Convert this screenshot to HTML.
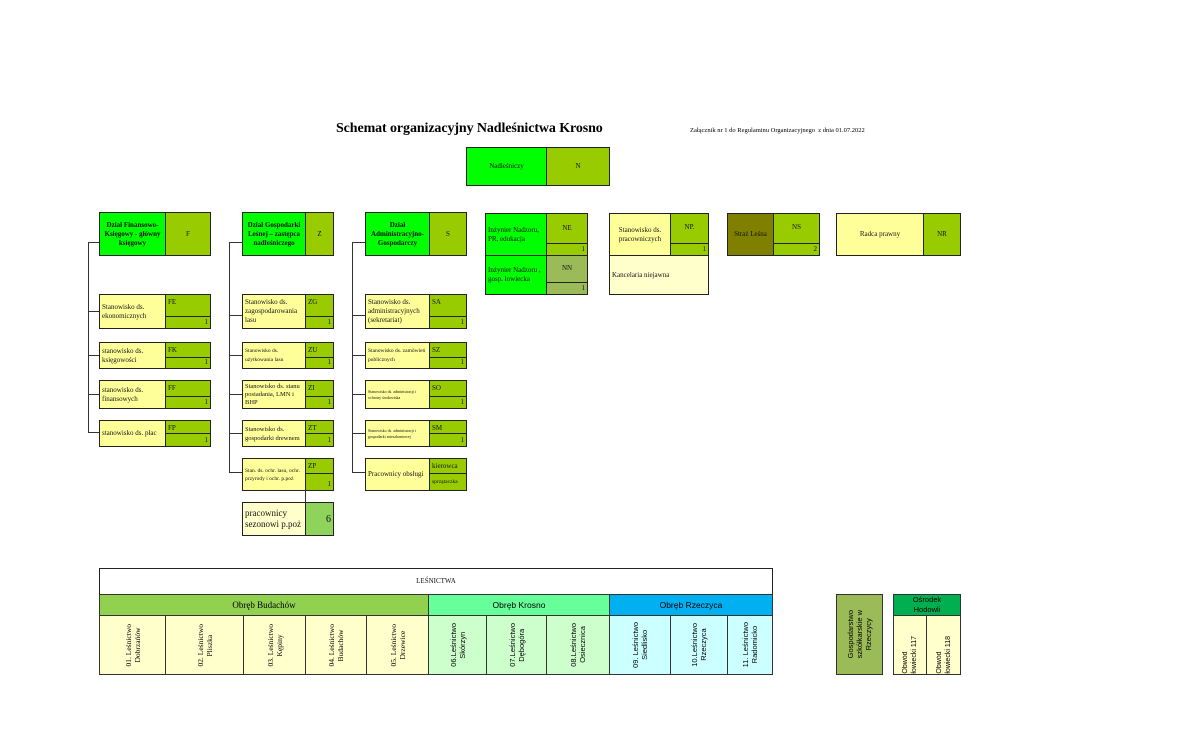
<!DOCTYPE html>
<html><head><meta charset="utf-8"><style>
body{margin:0;width:1180px;height:749px;background:#fff;position:relative;overflow:hidden;font-family:"Liberation Serif",serif;}
.a{position:absolute;box-sizing:border-box;}
.bx{position:absolute;box-sizing:border-box;border:1px solid #222;font-size:7px;line-height:9px;color:#111;display:flex;align-items:center;padding:0 2px;}
.c{justify-content:center;text-align:center;}
.g{background:#00ff00;}
.o{background:#99cc00;}
.y{background:#ffff99;}
.ly{background:#ffffcc;}
.code{align-items:flex-start;padding-top:3px;}
.n{justify-content:flex-end;align-items:flex-end;padding-bottom:1px;}
.ln{position:absolute;background:#333;}
.v{position:absolute;box-sizing:border-box;border:1px solid #333;font-family:"Liberation Sans",sans-serif;font-size:7.5px;line-height:9px;display:flex;align-items:center;justify-content:center;}
.v span{writing-mode:vertical-rl;transform:rotate(180deg);text-align:center;}
.s{font-family:"Liberation Serif",serif;}
</style></head><body>

<div class="a" style="left:336px;top:121px;font-size:14px;font-weight:bold;letter-spacing:-0.1px;">Schemat organizacyjny Nadleśnictwa Krosno</div>
<div class="a" style="left:690px;top:127px;font-size:6.5px;">Załącznik nr 1 do Regulaminu Organizacyjnego&nbsp; z dnia 01.07.2022</div>

<div class="bx g c" style="left:466px;top:147px;width:81px;height:39px;">Nadleśniczy</div>
<div class="bx o c" style="left:546px;top:147px;width:64px;height:39px;">N</div>

<!-- F -->
<div class="bx g c" style="left:99px;top:212px;width:67px;height:44px;font-weight:bold;">Dział Finansowo-Księgowy - główny księgowy</div>
<div class="bx o c" style="left:165px;top:212px;width:46px;height:44px;">F</div>
<div class="ln" style="left:88px;top:242px;width:1px;height:191px;"></div>
<div class="ln" style="left:88px;top:242px;width:11px;height:1px;"></div>

<div class="ln" style="left:88px;top:311px;width:11px;height:1px;"></div>
<div class="bx y" style="left:99px;top:294px;width:67px;height:35px;">Stanowisko ds. ekonomicznych</div>
<div class="bx o code" style="left:165px;top:294px;width:46px;height:23px;">FE</div>
<div class="bx o n" style="left:165px;top:316px;width:46px;height:13px;">1</div>

<div class="ln" style="left:88px;top:355px;width:11px;height:1px;"></div>
<div class="bx y" style="left:99px;top:342px;width:67px;height:27px;">stanowisko ds. księgowości</div>
<div class="bx o code" style="left:165px;top:342px;width:46px;height:16px;">FK</div>
<div class="bx o n" style="left:165px;top:357px;width:46px;height:12px;">1</div>

<div class="ln" style="left:88px;top:394px;width:11px;height:1px;"></div>
<div class="bx y" style="left:99px;top:380px;width:67px;height:29px;">stanowisko ds. finansowych</div>
<div class="bx o code" style="left:165px;top:380px;width:46px;height:17px;">FF</div>
<div class="bx o n" style="left:165px;top:396px;width:46px;height:13px;">1</div>

<div class="ln" style="left:88px;top:432px;width:11px;height:1px;"></div>
<div class="bx y" style="left:99px;top:420px;width:67px;height:27px;">stanowisko ds. płac</div>
<div class="bx o code" style="left:165px;top:420px;width:46px;height:14px;">FP</div>
<div class="bx o n" style="left:165px;top:433px;width:46px;height:14px;">1</div>

<!-- Z -->
<div class="bx g c" style="left:242px;top:212px;width:64px;height:44px;font-weight:bold;">Dział Gospodarki Leśnej – zastępca nadleśniczego</div>
<div class="bx o c" style="left:305px;top:212px;width:29px;height:44px;">Z</div>
<div class="ln" style="left:229px;top:242px;width:1px;height:231px;"></div>
<div class="ln" style="left:229px;top:242px;width:13px;height:1px;"></div>

<div class="ln" style="left:229px;top:315px;width:13px;height:1px;"></div>
<div class="bx y" style="left:242px;top:294px;width:64px;height:35px;">Stanowisko ds. zagospodarowania lasu</div>
<div class="bx o code" style="left:305px;top:294px;width:29px;height:23px;">ZG</div>
<div class="bx o n" style="left:305px;top:316px;width:29px;height:13px;">1</div>

<div class="ln" style="left:229px;top:355px;width:13px;height:1px;"></div>
<div class="bx y" style="left:242px;top:342px;width:64px;height:27px;font-size:5.5px;">Stanowisko ds. użytkowania lasu</div>
<div class="bx o code" style="left:305px;top:342px;width:29px;height:16px;">ZU</div>
<div class="bx o n" style="left:305px;top:357px;width:29px;height:12px;">1</div>

<div class="ln" style="left:229px;top:394px;width:13px;height:1px;"></div>
<div class="bx y" style="left:242px;top:380px;width:64px;height:29px;font-size:6.5px;line-height:8px;">Stanowisko ds. stanu posiadania, LMN i BHP</div>
<div class="bx o code" style="left:305px;top:380px;width:29px;height:17px;">ZI</div>
<div class="bx o n" style="left:305px;top:396px;width:29px;height:13px;">1</div>

<div class="ln" style="left:229px;top:433px;width:13px;height:1px;"></div>
<div class="bx y" style="left:242px;top:420px;width:64px;height:27px;font-size:6.5px;">Stanowisko ds. gospodarki drewnem</div>
<div class="bx o code" style="left:305px;top:420px;width:29px;height:14px;">ZT</div>
<div class="bx o n" style="left:305px;top:433px;width:29px;height:14px;">1</div>

<div class="ln" style="left:229px;top:472px;width:13px;height:1px;"></div>
<div class="bx y" style="left:242px;top:458px;width:64px;height:33px;font-size:5.5px;line-height:8px;">Stan. ds. ochr. lasu, ochr. przyrody i ochr. p.poż</div>
<div class="bx o code" style="left:305px;top:458px;width:29px;height:16px;">ZP</div>
<div class="bx o n" style="left:305px;top:473px;width:29px;height:18px;">1</div>
<div class="ln" style="left:305px;top:490px;width:1px;height:12px;"></div>
<div class="bx ly" style="left:242px;top:502px;width:64px;height:34px;font-size:9px;line-height:11px;">pracownicy sezonowi p.poż</div>
<div class="bx" style="left:305px;top:502px;width:29px;height:34px;background:#8fd35c;justify-content:flex-end;font-size:10px;">6</div>

<!-- S -->
<div class="bx g c" style="left:365px;top:212px;width:65px;height:44px;font-weight:bold;">Dział Administracyjno-Gospodarczy</div>
<div class="bx o c" style="left:429px;top:212px;width:38px;height:44px;">S</div>
<div class="ln" style="left:352px;top:242px;width:1px;height:231px;"></div>
<div class="ln" style="left:352px;top:242px;width:13px;height:1px;"></div>

<div class="ln" style="left:352px;top:315px;width:13px;height:1px;"></div>
<div class="bx y" style="left:365px;top:294px;width:65px;height:35px;">Stanowisko ds. administracyjnych (sekretariat)</div>
<div class="bx o code" style="left:429px;top:294px;width:38px;height:23px;">SA</div>
<div class="bx o n" style="left:429px;top:316px;width:38px;height:13px;">1</div>

<div class="ln" style="left:352px;top:355px;width:13px;height:1px;"></div>
<div class="bx y" style="left:365px;top:342px;width:65px;height:27px;font-size:5.5px;">Stanowisko ds. zamówień publicznych</div>
<div class="bx o code" style="left:429px;top:342px;width:38px;height:16px;">SZ</div>
<div class="bx o n" style="left:429px;top:357px;width:38px;height:12px;">1</div>

<div class="ln" style="left:352px;top:394px;width:13px;height:1px;"></div>
<div class="bx y" style="left:365px;top:380px;width:65px;height:29px;font-size:4px;line-height:6px;">Stanowisko ds. administracji i ochrony środowiska</div>
<div class="bx o code" style="left:429px;top:380px;width:38px;height:17px;">SO</div>
<div class="bx o n" style="left:429px;top:396px;width:38px;height:13px;">1</div>

<div class="ln" style="left:352px;top:433px;width:13px;height:1px;"></div>
<div class="bx y" style="left:365px;top:420px;width:65px;height:27px;font-size:4px;line-height:6px;">Stanowisko ds. administracji i gospodarki mieszkaniowej</div>
<div class="bx o code" style="left:429px;top:420px;width:38px;height:14px;">SM</div>
<div class="bx o n" style="left:429px;top:433px;width:38px;height:14px;">1</div>

<div class="ln" style="left:352px;top:472px;width:13px;height:1px;"></div>
<div class="bx y" style="left:365px;top:458px;width:65px;height:33px;">Pracownicy obsługi</div>
<div class="bx o" style="left:429px;top:458px;width:38px;height:16px;">kierowca</div>
<div class="bx o" style="left:429px;top:473px;width:38px;height:18px;font-size:5.5px;">sprzątaczka</div>

<!-- right group -->
<div class="bx g" style="left:485px;top:213px;width:62px;height:43px;">Inżynier Nadzoru, PR, edukacja</div>
<div class="bx o code c" style="left:546px;top:213px;width:42px;height:31px;padding-top:10px;">NE</div>
<div class="bx o n" style="left:546px;top:243px;width:42px;height:13px;">1</div>
<div class="bx g" style="left:485px;top:255px;width:62px;height:40px;">Inżynier Nadzoru , gosp. łowiecka</div>
<div class="bx c code" style="left:546px;top:255px;width:42px;height:28px;background:#9bbb59;padding-top:8px;">NN</div>
<div class="bx n" style="left:546px;top:282px;width:42px;height:13px;background:#9bbb59;">1</div>

<div class="bx y c" style="left:609px;top:213px;width:62px;height:43px;">Stanowisko ds. pracowniczych</div>
<div class="bx o c code" style="left:670px;top:213px;width:39px;height:31px;padding-top:9px;">NP.</div>
<div class="bx o n" style="left:670px;top:243px;width:39px;height:13px;">1</div>
<div class="bx ly" style="left:609px;top:255px;width:100px;height:40px;">Kancelaria niejawna</div>

<div class="bx c" style="left:727px;top:213px;width:47px;height:43px;background:#7f7f00;">Straż Leśna</div>
<div class="bx o c code" style="left:773px;top:213px;width:47px;height:31px;padding-top:9px;">NS</div>
<div class="bx o n" style="left:773px;top:243px;width:47px;height:13px;">2</div>

<div class="bx y c" style="left:836px;top:213px;width:88px;height:43px;">Radca prawny</div>
<div class="bx o c" style="left:923px;top:213px;width:38px;height:43px;">NR</div>

<!-- bottom table -->
<div class="bx c" style="left:99px;top:568px;width:674px;height:27px;background:#fff;font-size:7px;">LEŚNICTWA</div>
<div class="v s" style="left:99px;top:594px;width:330px;height:22px;background:#92d050;font-size:9px;">Obręb Budachów</div>
<div class="v" style="left:428px;top:594px;width:182px;height:22px;background:#66ff99;font-size:8.5px;">Obręb Krosno</div>
<div class="v" style="left:609px;top:594px;width:164px;height:22px;background:#00b0f0;font-size:8.5px;">Obręb Rzeczyca</div>

<div class="v s ly" style="left:99px;top:615px;width:67px;height:60px;"><span>01. Leśnictwo<br>Dobrzańów</span></div>
<div class="v s ly" style="left:165px;top:615px;width:79px;height:60px;"><span>02. Leśnictwo<br>Pliszka</span></div>
<div class="v s ly" style="left:243px;top:615px;width:63px;height:60px;"><span>03. Leśnictwo<br>Kępiny</span></div>
<div class="v s ly" style="left:305px;top:615px;width:62px;height:60px;"><span>04. Leśnictwo<br>Budachów</span></div>
<div class="v s ly" style="left:366px;top:615px;width:63px;height:60px;"><span>05. Leśnictwo<br>Drzewice</span></div>
<div class="v" style="left:428px;top:615px;width:59px;height:60px;background:#ccffcc;"><span>06.Leśnictwo<br>Skórzyn</span></div>
<div class="v" style="left:486px;top:615px;width:61px;height:60px;background:#ccffcc;"><span>07.Leśnictwo<br>Dębogóra</span></div>
<div class="v" style="left:546px;top:615px;width:64px;height:60px;background:#ccffcc;"><span>08.Leśnictwo<br>Osiecznica</span></div>
<div class="v" style="left:609px;top:615px;width:62px;height:60px;background:#ccffff;"><span>09. Leśnictwo<br>Siedlisko</span></div>
<div class="v" style="left:670px;top:615px;width:58px;height:60px;background:#ccffff;"><span>10.Leśnictwo<br>Rzeczyca</span></div>
<div class="v" style="left:727px;top:615px;width:46px;height:60px;background:#ccffff;"><span>11. Leśnictwo<br>Radomicko</span></div>

<div class="v" style="left:836px;top:594px;width:47px;height:81px;background:#9bbb59;"><span>Gospodarstwo<br>szkółkarskie w<br>Rzeczycy</span></div>
<div class="v" style="left:893px;top:594px;width:68px;height:22px;background:#00b050;line-height:10px;text-align:center;">Ośrodek<br>Hodowli</div>
<div class="v ly" style="left:893px;top:615px;width:34px;height:60px;align-items:flex-end;font-size:7px;"><span style="text-align:left;">Obwód<br>łowiecki 117</span></div>
<div class="v ly" style="left:926px;top:615px;width:35px;height:60px;align-items:flex-end;font-size:7px;"><span style="text-align:left;">Obwód<br>łowiecki 118</span></div>

</body></html>
